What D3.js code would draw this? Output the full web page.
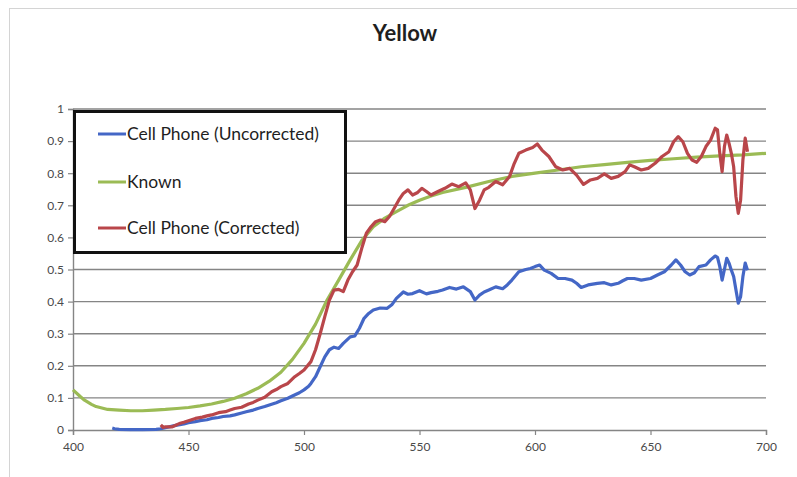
<!DOCTYPE html>
<html>
<head>
<meta charset="utf-8">
<script src="https://cdn.jsdelivr.net/npm/d3@7"></script>
<style>
  html, body { margin: 0; padding: 0; background: #fff; }
  svg { display: block; }
  text { font-family: Lato, "Open Sans", sans-serif; }
</style>
</head>
<body>
<svg id="chart" width="797" height="477"></svg>
<script>
// Spectral response of a yellow sample: wavelength (nm) vs. value
const chartTitle = "Yellow";
const seriesNames = ["Cell Phone (Uncorrected)", "Known", "Cell Phone (Corrected)"];
const seriesColors = ["#4467c6", "#9bbb55", "#b9464a"];
const xTicks = [400, 450, 500, 550, 600, 650, 700];
const yTicks = [0, 0.1, 0.2, 0.3, 0.4, 0.5, 0.6, 0.7, 0.8, 0.9, 1];
const yTickLabels = ["0", "0.1", "0.2", "0.3", "0.4", "0.5", "0.6", "0.7", "0.8", "0.9", "1"];

const uncorrected = [
  [417, 0.006], [418, 0.004], [420, 0.002], [425, 0.001], [430, 0.001], [436, 0.002],
  [438, 0.004], [440, 0.007], [443, 0.012], [445, 0.015], [448, 0.019], [450, 0.023],
  [453, 0.026], [455, 0.029], [458, 0.032], [460, 0.036], [463, 0.039], [465, 0.042],
  [468, 0.044], [470, 0.047], [473, 0.053], [475, 0.057], [478, 0.062], [480, 0.067],
  [483, 0.073], [485, 0.078], [488, 0.085], [490, 0.091], [493, 0.099], [495, 0.106],
  [498, 0.116], [500, 0.125], [502, 0.136], [503, 0.145], [505, 0.166], [507, 0.197],
  [509, 0.228], [511, 0.250], [513, 0.258], [515, 0.254], [517, 0.270], [520, 0.290],
  [522, 0.293], [524, 0.317], [526, 0.348], [528, 0.363], [530, 0.374], [533, 0.380],
  [536, 0.379], [538, 0.390], [540, 0.410], [543, 0.430], [545, 0.423], [547, 0.425],
  [550, 0.434], [553, 0.424], [555, 0.428], [558, 0.432], [560, 0.436], [563, 0.444],
  [566, 0.439], [569, 0.446], [572, 0.431], [574, 0.405], [576, 0.420], [578, 0.430],
  [580, 0.436], [583, 0.446], [586, 0.440], [588, 0.452], [590, 0.467], [593, 0.493],
  [596, 0.500], [598, 0.503], [600, 0.509], [602, 0.514], [604, 0.498], [607, 0.488],
  [610, 0.472], [613, 0.472], [616, 0.467], [618, 0.457], [620, 0.444], [623, 0.452],
  [627, 0.457], [630, 0.459], [633, 0.452], [636, 0.457], [638, 0.465], [640, 0.472],
  [643, 0.472], [646, 0.467], [650, 0.472], [653, 0.483], [656, 0.493], [659, 0.514],
  [661, 0.530], [663, 0.514], [665, 0.493], [667, 0.483], [669, 0.490], [671, 0.509],
  [674, 0.514], [676, 0.530], [678, 0.542], [679, 0.538], [680, 0.509], [681, 0.467],
  [682, 0.500], [683, 0.535], [684, 0.520], [685, 0.498], [686, 0.478], [687, 0.436],
  [688, 0.395], [689, 0.415], [690, 0.478], [691, 0.520], [692, 0.498]
];

const known = [
  [400, 0.125], [403, 0.105], [405, 0.093], [408, 0.080], [410, 0.073], [415, 0.064],
  [420, 0.062], [425, 0.060], [430, 0.060], [435, 0.062], [440, 0.064], [445, 0.067],
  [450, 0.070], [455, 0.075], [460, 0.081], [465, 0.089], [470, 0.099], [475, 0.113],
  [480, 0.130], [485, 0.152], [490, 0.180], [495, 0.220], [500, 0.270], [505, 0.330],
  [510, 0.405], [515, 0.467], [520, 0.530], [525, 0.590], [530, 0.633], [535, 0.660],
  [540, 0.680], [545, 0.700], [550, 0.716], [555, 0.729], [560, 0.740], [570, 0.756],
  [580, 0.774], [590, 0.790], [600, 0.800], [610, 0.810], [620, 0.820], [630, 0.827],
  [640, 0.834], [650, 0.840], [660, 0.845], [670, 0.850], [680, 0.854], [690, 0.857],
  [700, 0.862]
];

const corrected = [
  [438, 0.016], [439, 0.008], [440, 0.010], [443, 0.010], [446, 0.020], [448, 0.024],
  [450, 0.029], [453, 0.036], [456, 0.040], [458, 0.044], [460, 0.047], [463, 0.054],
  [466, 0.057], [468, 0.062], [470, 0.067], [473, 0.071], [476, 0.081], [478, 0.086],
  [480, 0.093], [483, 0.102], [486, 0.119], [488, 0.126], [490, 0.135], [493, 0.145],
  [496, 0.166], [498, 0.176], [500, 0.187], [503, 0.213], [505, 0.250], [507, 0.300],
  [509, 0.353], [511, 0.405], [513, 0.436], [515, 0.438], [517, 0.431], [519, 0.467],
  [521, 0.493], [523, 0.514], [525, 0.566], [527, 0.613], [529, 0.633], [531, 0.649],
  [533, 0.654], [535, 0.649], [537, 0.665], [539, 0.690], [541, 0.716], [543, 0.737],
  [545, 0.748], [547, 0.732], [549, 0.739], [551, 0.753], [553, 0.743], [555, 0.732],
  [558, 0.743], [561, 0.753], [564, 0.766], [567, 0.758], [570, 0.770], [572, 0.748],
  [574, 0.690], [576, 0.716], [578, 0.748], [580, 0.756], [583, 0.774], [586, 0.764],
  [589, 0.790], [591, 0.830], [593, 0.862], [596, 0.872], [599, 0.880], [601, 0.891],
  [603, 0.872], [606, 0.852], [609, 0.820], [612, 0.810], [615, 0.815], [618, 0.794],
  [621, 0.765], [624, 0.779], [627, 0.784], [630, 0.798], [633, 0.784], [636, 0.790],
  [639, 0.805], [641, 0.826], [643, 0.820], [646, 0.810], [649, 0.815], [652, 0.831],
  [655, 0.852], [658, 0.867], [660, 0.898], [662, 0.914], [664, 0.898], [666, 0.862],
  [668, 0.841], [670, 0.834], [672, 0.852], [674, 0.883], [676, 0.903], [678, 0.940],
  [679, 0.935], [680, 0.862], [681, 0.805], [682, 0.883], [683, 0.919], [684, 0.893],
  [685, 0.862], [686, 0.820], [687, 0.727], [688, 0.675], [689, 0.716], [690, 0.841],
  [691, 0.909], [692, 0.867]
];

const seriesData = [uncorrected, known, corrected];

const svg = d3.select("#chart");
const W = 797, H = 477;
const plot = { left: 73, right: 766, top: 109, bottom: 430 };

const x = d3.scaleLinear().domain([400, 700]).range([plot.left, plot.right]);
const y = d3.scaleLinear().domain([0, 1]).range([plot.bottom, plot.top]);

// Outer chart frame
svg.append("rect")
  .attr("x", 9.5).attr("y", 8.5).attr("width", W).attr("height", H)
  .attr("fill", "#fff").attr("stroke", "#d4d4d4").attr("stroke-width", 1);

// Title
svg.append("text")
  .attr("x", 405).attr("y", 41)
  .attr("text-anchor", "middle")
  .attr("font-size", 22).attr("font-weight", "bold")
  .attr("fill", "#1f1f1f")
  .text(chartTitle);

// Horizontal gridlines
svg.append("g")
  .selectAll("line")
  .data(yTicks.filter(d => d > 0))
  .join("line")
  .attr("x1", plot.left).attr("x2", plot.right)
  .attr("y1", d => y(d)).attr("y2", d => y(d))
  .attr("stroke", "#858585").attr("stroke-width", 1.4);

// Y axis
const yAxis = svg.append("g")
  .attr("transform", `translate(${plot.left},0)`)
  .call(d3.axisLeft(y).tickValues(yTicks)
    .tickFormat((d, i) => yTickLabels[i]).tickSize(5).tickPadding(4));
yAxis.select(".domain").attr("stroke", "#858585").attr("stroke-width", 1.4);
yAxis.selectAll(".tick line").attr("stroke", "#858585").attr("stroke-width", 1.2);
yAxis.selectAll(".tick text")
  .attr("font-family", "Lato, sans-serif").attr("font-size", 12).attr("fill", "#4a4a4a");

// X axis
const xAxis = svg.append("g")
  .attr("transform", `translate(0,${plot.bottom})`)
  .call(d3.axisBottom(x).tickValues(xTicks).tickFormat(d3.format("d"))
    .tickSize(5).tickPadding(7));
xAxis.select(".domain").attr("stroke", "#858585").attr("stroke-width", 1.4);
xAxis.selectAll(".tick line").attr("stroke", "#858585").attr("stroke-width", 1.2);
xAxis.selectAll(".tick text")
  .attr("font-family", "Lato, sans-serif").attr("font-size", 12).attr("fill", "#4a4a4a");

// Series lines
const line = d3.line()
  .x(d => x(d[0]))
  .y(d => y(d[1]))
  .curve(d3.curveLinear);

svg.append("g")
  .selectAll("path")
  .data(seriesData)
  .join("path")
  .attr("d", line)
  .attr("fill", "none")
  .attr("stroke", (d, i) => seriesColors[i])
  .attr("stroke-width", 3.2)
  .attr("stroke-linejoin", "round");

// Legend
const legend = svg.append("g");
legend.append("rect")
  .attr("x", 74.5).attr("y", 111.5).attr("width", 271).attr("height", 141)
  .attr("fill", "#fff").attr("stroke", "#111").attr("stroke-width", 3);

const legendRowsY = [134, 182, 228];
seriesNames.forEach((name, i) => {
  legend.append("line")
    .attr("x1", 98).attr("x2", 126)
    .attr("y1", legendRowsY[i]).attr("y2", legendRowsY[i])
    .attr("stroke", seriesColors[i]).attr("stroke-width", 3);
  legend.append("text")
    .attr("class", "legend-label")
    .attr("x", 127).attr("y", legendRowsY[i])
    .attr("dy", "0.35em")
    .attr("font-size", 16)
    .attr("fill", "#1f1f1f")
    .text(name);
});

// Fit legend text so the longest label spans the box width
const labels = legend.selectAll(".legend-label");
const longest = d3.max(labels.nodes(), n => n.getComputedTextLength());
const targetWidth = 192;
const fitted = 16 * targetWidth / longest;
labels.attr("font-size", fitted);
</script>
</body>
</html>
